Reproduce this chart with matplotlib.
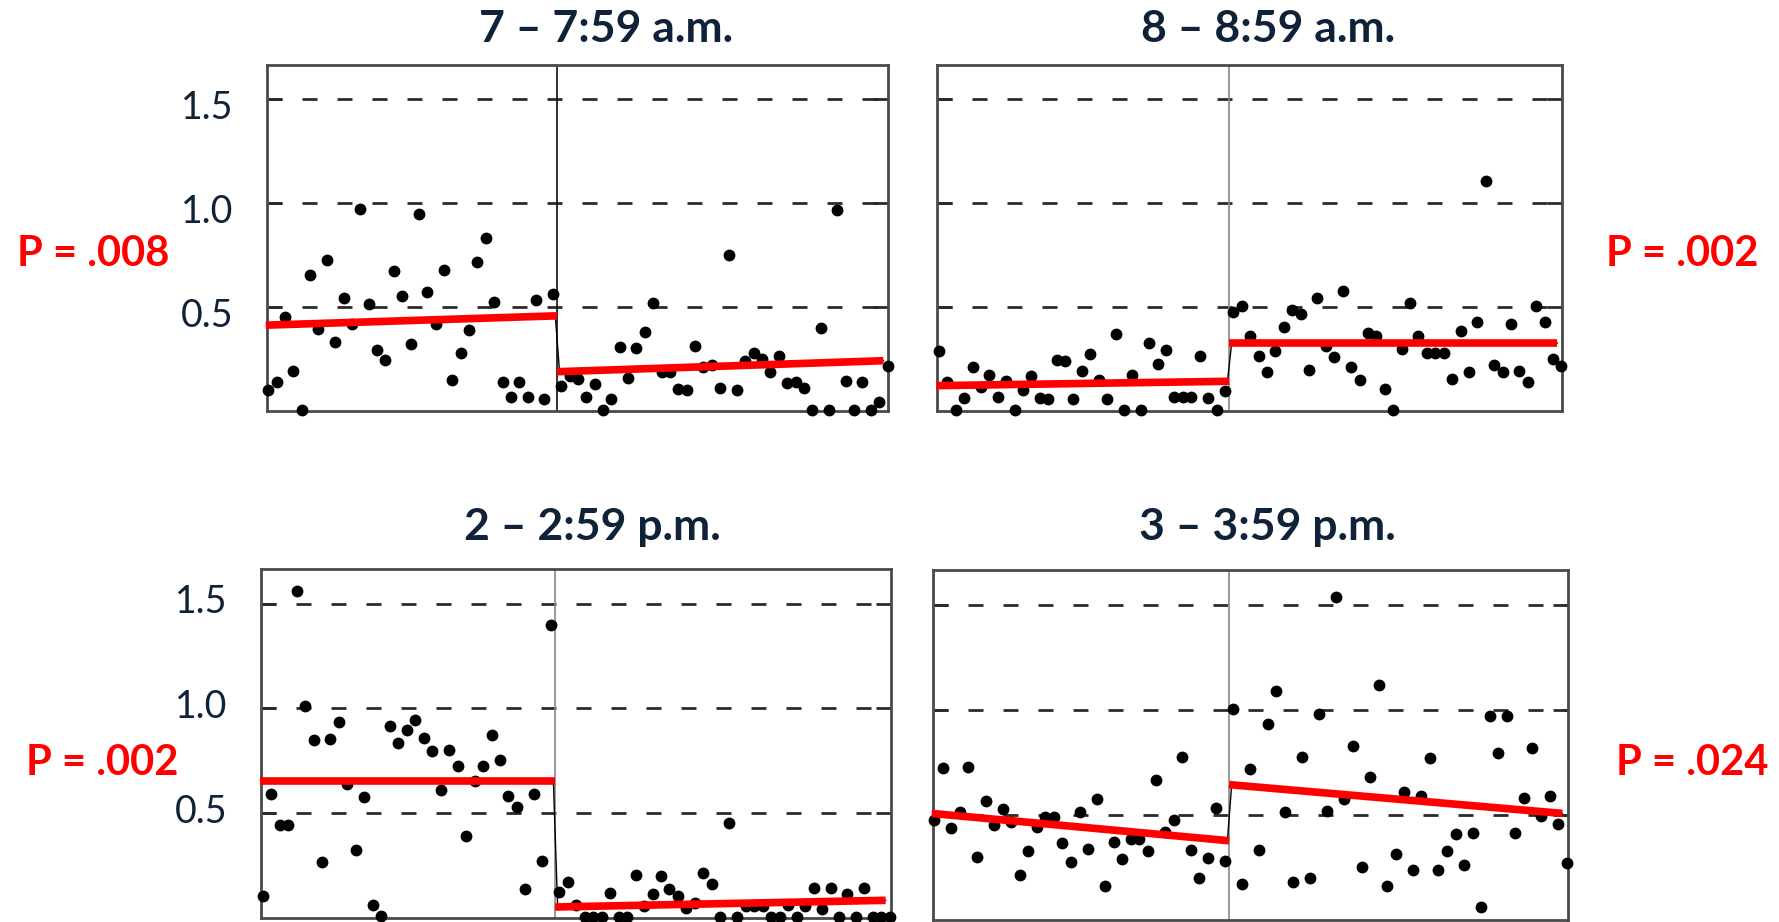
import numpy as np
import matplotlib.pyplot as plt

plt.rcParams['font.family'] = ['Lato', 'DejaVu Sans']

# --- data ---
titles = ['7 – 7:59 a.m.', '8 – 8:59 a.m.', '2 – 2:59 p.m.', '3 – 3:59 p.m.']
p_labels = ['P = .008', 'P = .002', 'P = .002', 'P = .024']
yticks = [0.5, 1.0, 1.5]
n_before = 35  # observations before the change

am7 = [0.103, 0.138, 0.450, 0.191, 0.005, 0.654, 0.397, 0.728, 0.330, 0.546,
       0.417, 0.974, 0.514, 0.295, 0.245, 0.673, 0.554, 0.322, 0.950, 0.574,
       0.417, 0.678, 0.149, 0.279, 0.389, 0.715, 0.833, 0.526, 0.141, 0.066,
       0.141, 0.066, 0.532, 0.056, 0.564,
       0.122, 0.170, 0.154, 0.066, 0.130, 0.005, 0.058, 0.306, 0.157, 0.301,
       0.381, 0.519, 0.189, 0.189, 0.106, 0.103, 0.313, 0.210, 0.221, 0.109,
       0.750, 0.101, 0.240, 0.279, 0.250, 0.186, 0.263, 0.133, 0.141, 0.109,
       0.005, 0.401, 0.005, 0.966, 0.146, 0.005, 0.141, 0.005, 0.042, 0.218]

am8 = [0.290, 0.141, 0.005, 0.063, 0.210, 0.114, 0.175, 0.066, 0.143, 0.005,
       0.101, 0.167, 0.063, 0.058, 0.245, 0.242, 0.058, 0.194, 0.274, 0.149,
       0.058, 0.370, 0.005, 0.173, 0.005, 0.325, 0.226, 0.295, 0.069, 0.069,
       0.069, 0.266, 0.061, 0.005, 0.098,
       0.474, 0.506, 0.362, 0.266, 0.189, 0.290, 0.405, 0.486, 0.466, 0.199,
       0.546, 0.314, 0.258, 0.579, 0.210, 0.149, 0.375, 0.359, 0.106, 0.005,
       0.298, 0.522, 0.359, 0.279, 0.279, 0.279, 0.154, 0.386, 0.189, 0.429,
       1.107, 0.221, 0.189, 0.418, 0.194, 0.141, 0.503, 0.429, 0.250, 0.218]

pm2 = [0.103, 0.590, 0.441, 0.441, 1.559, 1.013, 0.849, 0.267, 0.854, 0.933,
       0.638, 0.325, 0.576, 0.063, 0.008, 0.913, 0.833, 0.897, 0.944, 0.860,
       0.794, 0.611, 0.802, 0.722, 0.392, 0.651, 0.722, 0.873, 0.754, 0.583,
       0.529, 0.135, 0.590, 0.270, 1.397,
       0.122, 0.171, 0.063, 0.003, 0.003, 0.003, 0.119, 0.003, 0.003, 0.202,
       0.056, 0.111, 0.198, 0.135, 0.106, 0.048, 0.071, 0.214, 0.163, 0.003,
       0.452, 0.003, 0.056, 0.056, 0.056, 0.003, 0.003, 0.063, 0.003, 0.056,
       0.143, 0.043, 0.143, 0.003, 0.111, 0.003, 0.143, 0.003, 0.003, 0.003]

pm3 = [0.476, 0.724, 0.440, 0.515, 0.730, 0.300, 0.567, 0.452, 0.527, 0.468,
       0.214, 0.327, 0.444, 0.488, 0.491, 0.366, 0.276, 0.512, 0.339, 0.575,
       0.162, 0.370, 0.292, 0.385, 0.385, 0.327, 0.667, 0.421, 0.476, 0.774,
       0.331, 0.198, 0.295, 0.534, 0.283,
       1.002, 0.173, 0.716, 0.331, 0.934, 1.088, 0.515, 0.182, 0.774, 0.198,
       0.978, 0.518, 1.538, 0.575, 0.829, 0.251, 0.680, 1.116, 0.162, 0.316,
       0.609, 0.240, 0.590, 0.771, 0.240, 0.327, 0.410, 0.261, 0.416, 0.060,
       0.970, 0.793, 0.970, 0.416, 0.581, 0.818, 0.495, 0.589, 0.455, 0.272]

# fitted segments: before start, before end, after start, after end
fit_am7 = [0.413, 0.458, 0.189, 0.242]
fit_am8 = [0.122, 0.143, 0.327, 0.327]
fit_pm2 = [0.651, 0.651, 0.051, 0.083]
fit_pm3 = [0.507, 0.377, 0.644, 0.507]

series = [am7, am8, pm2, pm3]
fits = [fit_am7, fit_am8, fit_pm2, fit_pm3]

# --- layout ---
W, H = 1779, 922
navy = '#0f2237'
fig = plt.figure(figsize=(W / 100, H / 100), dpi=100)

# axes boxes in pixels: left, top, right, bottom
boxes = [(266.6, 65, 888.4, 411), (937.2, 65, 1562.3, 411),
         (261, 569, 890.7, 917.7), (932.6, 570, 1567.5, 920)]
title_pos = [(606, 42), (1268, 42), (592, 540), (1267, 540)]
p_pos = [(93, 254), (1682, 254), (102, 763), (1692, 763)]
label_dy = [-20, None, -9.6, None]
divider_col = ['#111111', '#888888', '#888888', '#888888']

for i in range(4):
    l, t, r, b = boxes[i]
    ax = fig.add_axes([l / W, 1 - b / H, (r - l) / W, (b - t) / H])
    y = np.array(series[i])
    x = np.arange(len(y))
    ax.set_xlim(-0.2, 74.1)
    ax.set_ylim(0, 1.665)

    for v in yticks:
        ax.axhline(v, color='#2a2a2a', lw=2, dashes=(5.4, 7.2), zorder=1)
    ax.axvline(n_before - 0.5, color=divider_col[i], lw=1.2, zorder=1)

    f = fits[i]
    ax.plot([-0.3, n_before - 0.7, n_before - 0.2, 73.5], f,
            color='black', lw=1, zorder=2)
    ax.plot(x, y, 'o', color='black', ms=7.5, mec='black', clip_on=False, zorder=3)
    ax.plot([-0.3, n_before - 0.5], f[:2], color='#ff0000', lw=5.5,
            solid_capstyle='butt', clip_on=False, zorder=4)
    ax.plot([n_before - 0.5, 73.5], f[2:], color='#ff0000', lw=5.5,
            solid_capstyle='butt', clip_on=False, zorder=4)

    ax.set_xticks([])
    ax.set_yticks(yticks)
    ax.tick_params(axis='y', direction='in', length=11, width=2, color='#2a2a2a',
                   left=True, right=True, labelleft=False)
    for s in ax.spines.values():
        s.set_color('#4a4a4a')
        s.set_linewidth(2)

    if label_dy[i] is not None:
        for v in yticks:
            ax.annotate(f'{v:.1f}', xy=(0, v), xycoords=('axes fraction', 'data'),
                        xytext=(-33.5, label_dy[i]), textcoords='offset pixels',
                        ha='right', va='baseline', fontsize=27, color=navy)

    tx, ty = title_pos[i]
    fig.text(tx / W, 1 - ty / H, titles[i], ha='center', va='baseline',
             fontsize=32, fontweight='bold', color=navy)
    px, py = p_pos[i]
    fig.text(px / W, 1 - py / H, p_labels[i], ha='center', va='center',
             fontsize=30, fontweight='bold', color='#ff0000')

fig.savefig('out.png', dpi=100)
